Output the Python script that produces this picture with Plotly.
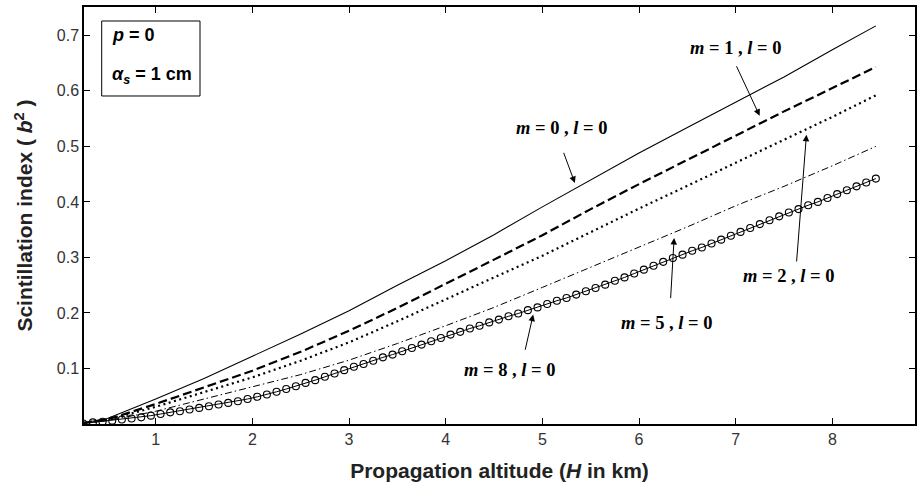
import plotly.graph_objects as go

# ---- data ----
x_line = [0.25, 0.5, 1.0, 1.5, 2.0, 2.5, 3.0, 3.5, 4.0, 4.5, 5.0, 5.5, 6.0, 6.5, 7.0, 7.5, 8.0, 8.45]
m0_l0 = [0.002, 0.010, 0.045, 0.082, 0.122, 0.162, 0.204, 0.250, 0.294, 0.341, 0.391, 0.440, 0.488, 0.534, 0.579, 0.625, 0.674, 0.717]
m1_l0 = [0.002, 0.008, 0.036, 0.066, 0.096, 0.130, 0.168, 0.209, 0.252, 0.296, 0.340, 0.387, 0.432, 0.476, 0.520, 0.563, 0.605, 0.643]
m2_l0 = [0.002, 0.007, 0.031, 0.057, 0.084, 0.114, 0.147, 0.185, 0.225, 0.264, 0.303, 0.346, 0.388, 0.429, 0.471, 0.512, 0.553, 0.592]
m5_l0 = [0.002, 0.006, 0.023, 0.045, 0.066, 0.089, 0.115, 0.145, 0.177, 0.210, 0.246, 0.282, 0.318, 0.355, 0.393, 0.428, 0.465, 0.500]

x_m8 = [0.25, 0.35, 0.45, 0.55, 0.65, 0.75, 0.85, 0.95, 1.05, 1.15, 1.25, 1.35, 1.45, 1.55, 1.65,
        1.75, 1.85, 1.95, 2.05, 2.15, 2.25, 2.35, 2.45, 2.55, 2.65, 2.75, 2.85, 2.95, 3.05, 3.15,
        3.25, 3.35, 3.45, 3.55, 3.65, 3.75, 3.85, 3.95, 4.05, 4.15, 4.25, 4.35, 4.45, 4.55, 4.65,
        4.75, 4.85, 4.95, 5.05, 5.15, 5.25, 5.35, 5.45, 5.55, 5.65, 5.75, 5.85, 5.95, 6.05, 6.15,
        6.25, 6.35, 6.45, 6.55, 6.65, 6.75, 6.85, 6.95, 7.05, 7.15, 7.25, 7.35, 7.45, 7.55, 7.65,
        7.75, 7.85, 7.95, 8.05, 8.15, 8.25, 8.35, 8.45]
m8_l0 = [0.001, 0.003, 0.004, 0.006, 0.008, 0.010, 0.012, 0.015, 0.018, 0.021, 0.023, 0.026, 0.029, 0.032, 0.035,
         0.038, 0.041, 0.045, 0.049, 0.053, 0.058, 0.063, 0.068, 0.074, 0.079, 0.085, 0.091, 0.097, 0.103, 0.108,
         0.114, 0.120, 0.125, 0.131, 0.137, 0.143, 0.149, 0.155, 0.161, 0.166, 0.172, 0.177, 0.183, 0.188, 0.194,
         0.199, 0.205, 0.210, 0.216, 0.222, 0.227, 0.233, 0.239, 0.245, 0.251, 0.258, 0.264, 0.271, 0.278, 0.285,
         0.292, 0.299, 0.305, 0.312, 0.318, 0.325, 0.332, 0.339, 0.346, 0.353, 0.360, 0.367, 0.374, 0.381, 0.387,
         0.394, 0.400, 0.407, 0.414, 0.421, 0.428, 0.435, 0.442]
assert len(x_m8) == len(m8_l0)

x_ticks = [1, 2, 3, 4, 5, 6, 7, 8]
y_ticks = [0.1, 0.2, 0.3, 0.4, 0.5, 0.6, 0.7]

# label number, label position, arrow tail, arrow tip (data coords)
labels = [
    ("0", 5.20, 0.533, 5.215, 0.491, 5.336, 0.434),
    ("1", 7.00, 0.677, 7.001, 0.647, 7.248, 0.555),
    ("2", 7.556, 0.267, 7.629, 0.290, 7.732, 0.521),
    ("5", 6.29, 0.182, 6.326, 0.224, 6.363, 0.335),
    ("8", 4.664, 0.098, 4.819, 0.131, 4.905, 0.197),
]

fig = go.Figure()
fig.add_trace(go.Scatter(x=x_line, y=m0_l0, mode="lines", line=dict(color="black", width=1.1)))
fig.add_trace(go.Scatter(x=x_line, y=m1_l0, mode="lines", line=dict(color="black", width=2.2, dash="9px,4px")))
fig.add_trace(go.Scatter(x=x_line, y=m2_l0, mode="lines", line=dict(color="black", width=2.2, dash="2px,3.5px")))
fig.add_trace(go.Scatter(x=x_line, y=m5_l0, mode="lines", line=dict(color="black", width=1, dash="7px,3px,1.5px,3px")))
fig.add_trace(go.Scatter(x=x_m8, y=m8_l0, mode="lines+markers", line=dict(color="black", width=1),
                         marker=dict(symbol="circle-open", size=7, color="black", line=dict(width=1.1))))

annotations = []
for num, tx, ty, axv, ayv, px, py in labels:
    annotations.append(dict(x=px, y=py, ax=axv, ay=ayv, xref="x", yref="y", axref="x", ayref="y",
                            text="", showarrow=True, arrowhead=2, arrowsize=1.3, arrowwidth=1,
                            arrowcolor="black"))
    annotations.append(dict(x=tx, y=ty, xref="x", yref="y", showarrow=False,
                            text="<b><i>m</i> = %s , <i>l</i> = 0</b>" % num,
                            font=dict(family="Liberation Serif", size=18.5, color="black")))

annotations.append(dict(x=0.031, y=0.933, xref="paper", yref="paper", xanchor="left", yanchor="middle",
                        showarrow=False, text="<b><i>p</i> = 0</b>",
                        font=dict(family="Liberation Sans", size=18, color="black")))
annotations.append(dict(x=0.031, y=0.835, xref="paper", yref="paper", xanchor="left", yanchor="middle",
                        showarrow=False, text="<b><i>α</i><sub><i>s</i></sub> = 1 cm</b>",
                        font=dict(family="Liberation Sans", size=18, color="black")))

fig.update_layout(
    width=918, height=484,
    margin=dict(l=84, r=3, t=7, b=60),
    paper_bgcolor="white", plot_bgcolor="white",
    showlegend=False,
    annotations=annotations,
    shapes=[dict(type="rect", xref="paper", yref="paper", x0=0.0213, x1=0.1396, y0=0.7866, y1=0.9664,
                 line=dict(color="black", width=1))],
    font=dict(family="Liberation Sans", color="#333333"),
)
fig.update_xaxes(range=[0.258, 8.855], tickvals=x_ticks, ticktext=[str(v) for v in x_ticks],
                 ticks="inside", ticklen=6, tickcolor="black", showline=True, linecolor="black", linewidth=1.5,
                 mirror="ticks", showgrid=False, zeroline=False, automargin=False,
                 tickfont=dict(size=16, color="#333333"),
                 title=dict(text="<b>Propagation altitude (<i>H</i> in km)</b>", standoff=16,
                            font=dict(size=21, color="#222222")))
fig.update_yaxes(range=[0, 0.751], tickvals=y_ticks, ticktext=["%.1f" % v for v in y_ticks],
                 ticks="inside", ticklen=6, tickcolor="black", showline=True, linecolor="black", linewidth=1.5,
                 mirror="ticks", showgrid=False, zeroline=False, automargin=False,
                 tickfont=dict(size=16, color="#333333"),
                 title=dict(text="<b>Scintillation index ( <i>b</i><sup>2</sup> )</b>", standoff=18,
                            font=dict(size=21, color="#222222")))

fig.write_html("out.html", config={"displayModeBar": False},
               post_script="document.body.style.margin='0';")
